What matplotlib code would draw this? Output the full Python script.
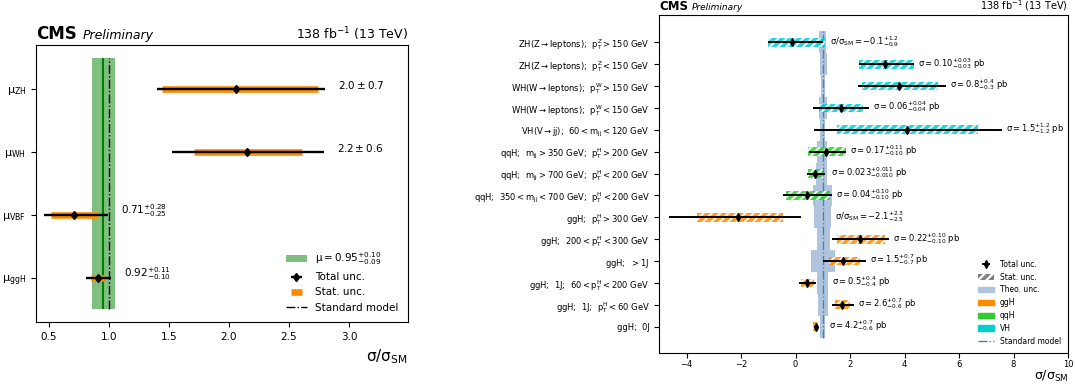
"""
Signal strengths per production mode and STXS cross sections
"""
import numpy as np
import matplotlib.pyplot as plt
import matplotlib.patches as mpatches
from matplotlib.lines import Line2D

plt.rcParams['mathtext.default'] = 'regular'
plt.rcParams['hatch.linewidth'] = 1.6

#==================
# Left panel: signal strength per production mode
MODES = [r'$\mu_{ggH}$', r'$\mu_{VBF}$', r'$\mu_{WH}$', r'$\mu_{ZH}$']
MU = [0.91, 0.71, 2.15, 2.06]
MU_TOT_LO = [0.10, 0.25, 0.62, 0.66]
MU_TOT_HI = [0.11, 0.28, 0.64, 0.74]
MU_STAT_LO = [0.06, 0.19, 0.44, 0.62]
MU_STAT_HI = [0.06, 0.20, 0.46, 0.68]
MU_TEXT = [r'$0.92^{+0.11}_{-0.10}$', r'$0.71^{+0.28}_{-0.25}$',
           r'$2.2 \pm 0.6$', r'$2.0 \pm 0.7$']
MU_COMB = 0.95
MU_COMB_LO = 0.09
MU_COMB_HI = 0.10

#==================
# Right panel: STXS bins (bottom to top)
BINS = [r'ggH;  0J',
        r'ggH;  1J;  $p_T^H < 60$ GeV',
        r'ggH;  1J;  $60 < p_T^H < 200$ GeV',
        r'ggH;  $ > 1$J',
        r'ggH;  $200 < p_T^H < 300$ GeV',
        r'ggH;  $p_T^H > 300$ GeV',
        r'qqH;  $350 < m_{jj} < 700$ GeV;  $p_T^H < 200$ GeV',
        r'qqH;  $m_{jj} > 700$ GeV;  $p_T^H < 200$ GeV',
        r'qqH;  $m_{jj} > 350$ GeV;  $p_T^H > 200$ GeV',
        r'VH(V$\rightarrow$jj);  $60 < m_{jj} < 120$ GeV',
        r'WH(W$\rightarrow$leptons);  $p_T^W < 150$ GeV',
        r'WH(W$\rightarrow$leptons);  $p_T^W > 150$ GeV',
        r'ZH(Z$\rightarrow$leptons);  $p_T^Z < 150$ GeV',
        r'ZH(Z$\rightarrow$leptons);  $p_T^Z > 150$ GeV']
PROC = ['ggH'] * 6 + ['qqH'] * 3 + ['VH'] * 5
XS = [0.74, 1.72, 0.43, 1.76, 2.36, -2.10, 0.41, 0.71, 1.12, 4.10, 1.66, 3.81, 3.28, -0.12]
TOT_LO = [0.06, 0.37, 0.29, 0.74, 1.03, 2.54, 0.88, 0.28, 0.62, 3.43, 1.01, 1.53, 0.95, 0.88]
TOT_HI = [0.07, 0.42, 0.31, 0.81, 1.08, 2.29, 0.92, 0.37, 0.73, 3.47, 1.05, 1.70, 1.07, 1.14]
STAT_LO = [0.09, 0.27, 0.24, 0.52, 0.85, 1.51, 0.76, 0.24, 0.65, 2.59, 0.79, 1.36, 0.95, 0.88]
STAT_HI = [0.09, 0.27, 0.25, 0.60, 0.92, 1.63, 0.85, 0.28, 0.73, 2.61, 0.83, 1.43, 1.07, 1.19]
THEO_LO = [0.90, 0.81, 0.77, 0.57, 0.77, 0.68, 0.64, 0.75, 0.80, 0.90, 0.86, 0.92, 0.90, 0.87]
THEO_HI = [1.08, 1.18, 1.20, 1.45, 1.26, 1.29, 1.33, 1.16, 1.16, 1.08, 1.14, 1.08, 1.14, 1.10]
XS_TEXT = [r'$\sigma = 4.2^{+0.7}_{-0.6}$ pb',
           r'$\sigma = 2.6^{+0.7}_{-0.6}$ pb',
           r'$\sigma = 0.5^{+0.4}_{-0.4}$ pb',
           r'$\sigma = 1.5^{+0.7}_{-0.7}$ pb',
           r'$\sigma = 0.22^{+0.10}_{-0.10}$ pb',
           r'$\sigma/\sigma_{SM} = -2.1^{+2.3}_{-2.5}$',
           r'$\sigma = 0.04^{+0.10}_{-0.10}$ pb',
           r'$\sigma = 0.023^{+0.011}_{-0.010}$ pb',
           r'$\sigma = 0.17^{+0.11}_{-0.10}$ pb',
           r'$\sigma = 1.5^{+1.2}_{-1.2}$ pb',
           r'$\sigma = 0.06^{+0.04}_{-0.04}$ pb',
           r'$\sigma = 0.8^{+0.4}_{-0.3}$ pb',
           r'$\sigma = 0.10^{+0.03}_{-0.03}$ pb',
           r'$\sigma/\sigma_{SM} = -0.1^{+1.2}_{-0.9}$']
PROC_COLORS = {'ggH': 'darkorange', 'qqH': 'limegreen', 'VH': 'darkturquoise'}

FIG = plt.figure(figsize=(10.75, 3.85), dpi=100)
AX1 = FIG.add_axes([0.0335, 0.1636, 0.3460, 0.7195])
AX2 = FIG.add_axes([0.6133, 0.0844, 0.3802, 0.8766])

#==================
# Left panel
Y1 = np.arange(len(MODES))
BAND = AX1.fill_betweenx([Y1[0] - 0.5, Y1[-1] + 0.5], MU_COMB - MU_COMB_LO,
                         MU_COMB + MU_COMB_HI, color='green', alpha=0.5, lw=0)
AX1.vlines(MU_COMB, Y1[0] - 0.5, Y1[-1] + 0.5, color='green', lw=1.5)
AX1.vlines(1.0, Y1[0] - 0.5, Y1[-1] + 0.5, color='black', ls='-.', lw=1)
STAT1 = AX1.errorbar(MU, Y1, xerr=[MU_STAT_LO, MU_STAT_HI], fmt='none',
                     ecolor='darkorange', elinewidth=4.8)
TOT1 = AX1.errorbar(MU, Y1, xerr=[MU_TOT_LO, MU_TOT_HI], fmt='d', color='black',
                    ms=4.5, elinewidth=1.7)
for i, txt in enumerate(MU_TEXT):
    AX1.text(MU[i] + MU_TOT_HI[i] + 0.11, Y1[i] + 0.07, txt, fontsize=7.5, va='center')

AX1.set_xlim(0.394, 3.49)
AX1.set_ylim(-0.7, 3.7)
AX1.set_yticks(Y1, MODES, fontsize=8)
AX1.tick_params(axis='x', labelsize=7.5)
AX1.set_xlabel(r'$\sigma/\sigma_{SM}$', fontsize=11, loc='right')
AX1.text(0, 1.022, 'CMS', transform=AX1.transAxes, fontsize=12, weight='bold', va='baseline')
AX1.text(0.1255, 1.022, 'Preliminary', transform=AX1.transAxes, fontsize=9,
         style='italic', va='baseline')
AX1.text(1, 1.022, r'138 fb$^{-1}$ (13 TeV)', transform=AX1.transAxes, fontsize=9,
         ha='right', va='baseline')
SM1_H = Line2D([], [], color='black', ls='-.', lw=1)
AX1.legend([BAND, TOT1, STAT1, SM1_H],
           [r'$\mu = 0.95^{+0.10}_{-0.09}$', 'Total unc.', 'Stat. unc.', 'Standard model'],
           loc='lower right', frameon=False, fontsize=7.5)

#==================
# Right panel
Y2 = np.arange(len(BINS))
XS_A = np.array(XS)
AX2.barh(Y2, np.array(THEO_HI) - np.array(THEO_LO), left=THEO_LO, height=1.0,
         color='lightsteelblue', lw=0, zorder=1)
AX2.vlines(1.0, Y2[0] - 0.5, Y2[-1] + 0.5, color='steelblue', ls='-.', lw=1, zorder=2)
AX2.barh(Y2, np.array(STAT_LO) + np.array(STAT_HI), left=XS_A - np.array(STAT_LO),
         height=0.4, color=[PROC_COLORS[p] for p in PROC], edgecolor='white',
         hatch='////', lw=0, alpha=0.85, zorder=3)
TOT2 = AX2.errorbar(XS, Y2, xerr=[TOT_LO, TOT_HI], fmt='d', color='black',
                    ms=4, elinewidth=1.4, zorder=4)
for i, txt in enumerate(XS_TEXT):
    xpos = max(XS[i] + TOT_HI[i], THEO_HI[i]) + 0.15
    AX2.text(xpos, Y2[i] + 0.05, txt, fontsize=6, va='center')

AX2.set_xlim(-5, 10)
AX2.set_ylim(-1.18, 14.25)
AX2.set_yticks(Y2, BINS, fontsize=6)
AX2.tick_params(axis='x', labelsize=6, pad=2)
AX2.set_xlabel(r'$\sigma/\sigma_{SM}$', fontsize=9, loc='right', labelpad=0)
AX2.text(0, 1.015, 'CMS', transform=AX2.transAxes, fontsize=8.5, weight='bold', va='baseline')
AX2.text(0.08, 1.015, 'Preliminary', transform=AX2.transAxes, fontsize=6.5,
         style='italic', va='baseline')
AX2.text(1, 1.015, r'138 fb$^{-1}$ (13 TeV)', transform=AX2.transAxes, fontsize=7,
         ha='right', va='baseline')

HANDLES = [TOT2,
           mpatches.Patch(facecolor='gray', edgecolor='white', hatch='////', lw=0),
           mpatches.Patch(color='lightsteelblue'),
           mpatches.Patch(color='darkorange'),
           mpatches.Patch(color='limegreen'),
           mpatches.Patch(color='darkturquoise'),
           Line2D([], [], color='steelblue', ls='-.', lw=1)]
LABELS = ['Total unc.', 'Stat. unc.', 'Theo. unc.', 'ggH', 'qqH', 'VH', 'Standard model']
AX2.legend(HANDLES, LABELS, loc='lower right', frameon=False, fontsize=5.5)

FIG.savefig('out.png', dpi=100)
